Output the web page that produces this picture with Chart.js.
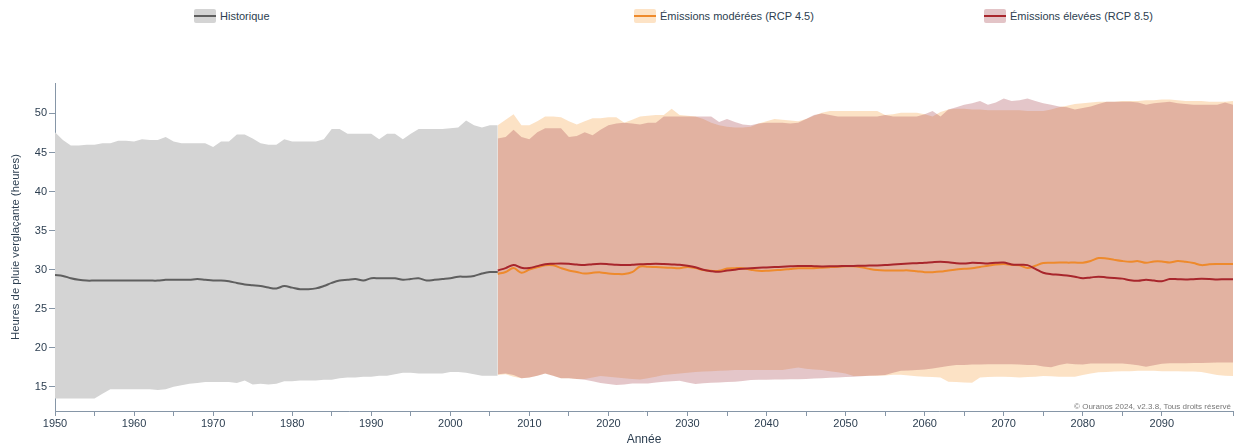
<!DOCTYPE html>
<html lang="fr">
<head>
<meta charset="utf-8">
<title>Heures de pluie verglaçante</title>
<script src="https://cdn.jsdelivr.net/npm/chart.js@4.4.1/dist/chart.umd.min.js"></script>
<style>
    html, body { margin: 0; padding: 0; background: #fff; }
    body { width: 1234px; height: 445px; position: relative; overflow: hidden;
           font-family: "Liberation Sans", Arial, Helvetica, sans-serif; color: #2c3e50; }
    #wrap { position: absolute; left: 0; top: 0; width: 1234px; height: 445px; }
    .leg { position: absolute; top: 9px; height: 14px; display: flex; align-items: center; font-size: 11px; color: #2c3e50; }
    .leg .sw { width: 22px; height: 14px; position: relative; margin-right: 4px; border-radius: 2px; }
    .leg .sw i { position: absolute; left: 0; right: 0; top: 6px; height: 2px; }
    #credit { position: absolute; right: 3px; top: 402px; font-size: 8px; color: #777; }
</style>
</head>
<body>
<div class="leg" style="left:194px;"><span class="sw" style="background:#d4d4d4;"><i style="background:#5f5f5f;"></i></span>Historique</div>
<div class="leg" style="left:634px;"><span class="sw" style="background:#fde3c6;"><i style="background:#ee8a2c;"></i></span>Émissions modérées (RCP 4.5)</div>
<div class="leg" style="left:984px;"><span class="sw" style="background:#e3c4c7;"><i style="background:#a8262c;"></i></span>Émissions élevées (RCP 8.5)</div>
<div id="wrap"><canvas id="iceChart"></canvas></div>
<div id="credit">© Ouranos 2024, v2.3.8, Tous droits réservé</div>

<script>
// ═══ données ═══
const HIST_START = 1950;
const FUT_START  = 2006;
const histYears   = Array.from({ length: 57 }, (_, i) => HIST_START + i);   // 1950–2006
const futureYears = Array.from({ length: 94 }, (_, i) => FUT_START + i);    // 2006–2099

const histMean = [
    29.3, 29.2, 28.9, 28.7, 28.6, 28.6, 28.6, 28.6, 28.6, 28.6,
    28.6, 28.6, 28.6, 28.6, 28.7, 28.7, 28.7, 28.7, 28.8, 28.7,
    28.6, 28.6, 28.5, 28.3, 28.1, 28.0, 27.9, 27.7, 27.6, 27.9,
    27.7, 27.5, 27.5, 27.6, 27.9, 28.3, 28.6, 28.7, 28.8, 28.6,
    28.9, 28.9, 28.9, 28.9, 28.7, 28.8, 28.9, 28.6, 28.7, 28.8,
    28.9, 29.1, 29.1, 29.2, 29.5, 29.7, 29.7
];
const histUpper = [
    47.6, 46.6, 45.9, 45.9, 46.0, 46.0, 46.2, 46.2, 46.5, 46.5,
    46.4, 46.7, 46.6, 46.6, 47.0, 46.4, 46.2, 46.2, 46.2, 46.2,
    45.7, 46.4, 46.4, 47.3, 47.3, 46.8, 46.2, 46.0, 46.0, 46.7,
    46.4, 46.4, 46.4, 46.4, 46.7, 48.0, 48.0, 47.4, 47.4, 47.4,
    47.4, 46.7, 47.4, 47.4, 46.7, 47.4, 48.0, 48.0, 48.0, 48.0,
    48.1, 48.2, 49.1, 48.5, 48.2, 48.5, 48.5
];
const histLower = [
    13.5, 13.5, 13.5, 13.5, 13.5, 13.5, 14.1, 14.7, 14.7, 14.7,
    14.7, 14.7, 14.7, 14.6, 14.7, 15.0, 15.2, 15.4, 15.5, 15.6,
    15.6, 15.6, 15.6, 15.5, 15.8, 15.3, 15.4, 15.3, 15.4, 15.7,
    15.7, 15.8, 15.8, 15.8, 15.9, 15.9, 16.1, 16.2, 16.2, 16.3,
    16.3, 16.4, 16.4, 16.6, 16.8, 16.8, 16.7, 16.7, 16.7, 16.7,
    16.9, 16.9, 16.8, 16.6, 16.4, 16.4, 16.4
];

// RCP 4.5
const rcp45Mean = [
    29.45, 29.7, 30.2, 29.6,
    30.0, 30.3, 30.55, 30.55, 30.2, 29.9, 29.7, 29.5, 29.6, 29.65,
    29.5, 29.45, 29.43, 29.68, 30.41, 30.38, 30.33, 30.28, 30.23, 30.19,
    30.35, 30.2, 29.95, 29.85, 29.85, 30.15, 30.19, 30.19, 30.0, 29.85,
    29.85, 29.92, 29.98, 30.08, 30.17, 30.19, 30.19, 30.25, 30.32, 30.38,
    30.42, 30.44, 30.3, 30.1, 29.95, 29.9, 29.9, 29.9, 29.9, 29.8,
    29.68, 29.68, 29.75, 29.9, 30.02, 30.1, 30.19, 30.35, 30.49, 30.65,
    30.72, 30.62, 30.56, 30.2, 30.5, 30.84, 30.88, 30.92, 30.9, 30.9,
    30.88, 31.1, 31.48, 31.43, 31.25, 31.1, 31.02, 31.09, 30.88, 31.05,
    31.05, 30.92, 31.1, 31.0, 30.84, 30.58, 30.68, 30.71, 30.71, 30.71
];
const rcp45Upper = [
    48.5, 49.2, 49.9, 48.5,
    48.5, 49.0, 49.6, 49.6, 49.5, 49.0, 48.6, 49.0, 49.4, 49.4,
    49.5, 49.5, 48.8, 49.2, 49.6, 49.7, 49.8, 49.8, 50.6, 49.8,
    49.7, 49.6, 49.3, 48.8, 48.5, 48.3, 48.2, 48.2, 48.3, 48.7,
    49.0, 49.3, 49.2, 49.1, 49.0, 49.3, 49.7, 50.1, 50.3, 50.3,
    50.3, 50.3, 50.3, 50.3, 50.3, 49.8, 49.9, 50.1, 50.1, 50.1,
    49.9, 49.6, 50.2, 50.5, 50.6, 50.6, 50.5, 50.5, 50.4, 50.4,
    50.4, 50.4, 50.4, 50.3, 50.3, 50.3, 50.5, 50.8, 51.0, 51.2,
    51.3, 51.4, 51.5, 51.5, 51.5, 51.6, 51.6, 51.6, 51.7, 51.7,
    51.8, 51.8, 51.7, 51.6, 51.6, 51.6, 51.5, 51.5, 51.5, 51.6
];
const rcp45Lower = [
    16.5, 16.6, 16.3, 16.1,
    16.2, 16.4, 16.7, 16.4, 16.1, 16.1, 16.0, 16.0, 16.2, 16.37,
    16.3, 16.2, 16.1, 16.0, 15.94, 16.1, 16.3, 16.5, 16.6, 16.7,
    16.8, 16.9, 16.95, 17.0, 17.05, 17.1, 17.14, 17.14, 17.14, 17.14,
    17.14, 17.14, 17.14, 17.3, 17.48, 17.3, 17.2, 17.14, 17.0, 16.85,
    16.7, 16.38, 16.38, 16.4, 16.4, 16.45, 16.55, 16.55, 16.45, 16.35,
    16.3, 16.25, 16.2, 15.65, 15.6, 15.55, 15.52, 16.2, 16.25, 16.3,
    16.3, 16.25, 16.2, 16.25, 16.3, 16.37, 16.35, 16.3, 16.3, 16.3,
    16.5, 16.7, 16.85, 16.9, 16.95, 17.0, 17.0, 17.05, 17.05, 17.05,
    17.0, 17.0, 17.0, 16.95, 16.95, 16.9, 16.7, 16.5, 16.4, 16.37
];

// RCP 8.5
const rcp85Mean = [
    29.9, 30.2, 30.6, 30.25,
    30.2, 30.45, 30.7, 30.75, 30.8, 30.75, 30.65, 30.6, 30.7, 30.75,
    30.7, 30.62, 30.58, 30.62, 30.68, 30.72, 30.75, 30.72, 30.67, 30.62,
    30.5, 30.3, 29.98, 29.8, 29.72, 29.88, 30.0, 30.1, 30.18, 30.24,
    30.28, 30.33, 30.37, 30.42, 30.47, 30.47, 30.44, 30.41, 30.42, 30.45,
    30.46, 30.48, 30.5, 30.52, 30.54, 30.58, 30.65, 30.72, 30.78, 30.83,
    30.88, 30.96, 31.01, 30.95, 30.82, 30.78, 30.88, 30.85, 30.79, 30.88,
    30.9, 30.66, 30.62, 30.58, 30.11, 29.6, 29.42, 29.36, 29.26, 29.1,
    28.9, 29.0, 29.1, 29.0, 28.92, 28.85, 28.65, 28.58, 28.72, 28.6,
    28.52, 28.8, 28.78, 28.74, 28.78, 28.82, 28.8, 28.75, 28.78, 28.78
];
const rcp85Upper = [
    46.8, 47.0, 47.9, 47.0,
    46.7, 47.6, 48.1, 48.1, 48.1, 47.0, 47.1, 47.6, 47.2, 47.9,
    48.5, 48.7, 48.8, 48.7, 48.6, 48.8, 48.8, 49.6, 49.6, 49.6,
    49.6, 49.6, 49.6, 49.6, 48.9, 49.3, 48.9, 48.6, 48.5, 48.7,
    48.8, 48.8, 48.8, 48.7, 48.8, 49.3, 49.8, 50.0, 49.8, 49.6,
    49.6, 49.6, 49.6, 49.6, 49.6, 49.8, 49.6, 49.6, 49.6, 49.6,
    49.9, 50.3, 49.6, 50.5, 50.8, 51.1, 51.3, 51.6, 51.1, 51.4,
    51.9, 51.6, 51.7, 51.9, 51.6, 51.3, 51.1, 50.9, 50.8, 50.5,
    50.7, 50.9, 51.2, 51.5, 51.5, 51.5, 51.5, 51.4, 51.1, 51.3,
    51.4, 51.5, 51.3, 51.2, 51.1, 51.1, 51.1, 51.1, 51.4, 51.1
];
const rcp85Lower = [
    16.6, 16.7, 16.5, 16.1,
    16.2, 16.4, 16.7, 16.4, 16.1, 16.1, 16.0, 15.9, 15.7, 15.5,
    15.35, 15.22, 15.3, 15.43, 15.43, 15.43, 15.55, 15.65, 15.7, 15.77,
    15.55, 15.35, 15.45, 15.52, 15.55, 15.6, 15.65, 15.75, 15.86, 15.9,
    15.9, 15.92, 15.94, 15.96, 15.97, 15.99, 16.05, 16.1, 16.15, 16.2,
    16.25, 16.3, 16.35, 16.4, 16.45, 16.5, 16.8, 17.05, 17.1, 17.15,
    17.2, 17.35, 17.5, 17.65, 17.78, 17.8, 17.85, 17.85, 17.9, 17.9,
    17.9, 17.88, 17.85, 17.8, 17.78, 17.6, 17.5, 17.8, 17.99, 17.9,
    17.86, 17.99, 17.99, 17.99, 17.99, 17.99, 17.9, 17.75, 17.56, 17.75,
    17.95, 18.0, 18.0, 18.02, 18.04, 18.06, 18.08, 18.1, 18.12, 18.12
];

const yTicks = [15, 20, 25, 30, 35, 40, 45, 50];

// ═══ rendu ═══
const pts = (years, vals) => years.map((yr, i) => ({ x: yr, y: vals[i] }));

const lineDs = (label, years, vals, color) => ({
    label, data: pts(years, vals),
    borderColor: color, borderWidth: 2, pointRadius: 0,
    tension: 0.35, fill: false
});
const edgeDs = (years, vals, fillTo, color) => ({
    data: pts(years, vals),
    borderWidth: 0, borderColor: 'transparent', pointRadius: 0, tension: 0,
    backgroundColor: color,
    fill: fillTo === null ? false : { target: fillTo }
});

const AXIS = '#8696a7';
const TXT  = '#2c3e50';

new Chart(document.getElementById('iceChart').getContext('2d'), {
    type: 'line',
    data: {
        datasets: [
            lineDs('Émissions élevées (RCP 8.5)', futureYears, rcp85Mean, '#a8262c'),   // 0
            lineDs('Émissions modérées (RCP 4.5)', futureYears, rcp45Mean, '#ee8a2c'),  // 1
            lineDs('Historique', histYears, histMean, '#5f5f5f'),                       // 2
            edgeDs(futureYears, rcp85Upper, 4, 'rgba(165,65,75,0.30)'),                  // 3
            edgeDs(futureYears, rcp85Lower, null, 'transparent'),                        // 4
            edgeDs(futureYears, rcp45Upper, 6, 'rgba(246,152,48,0.28)'),                 // 5
            edgeDs(futureYears, rcp45Lower, null, 'transparent'),                        // 6
            edgeDs(histYears, histUpper, 8, '#d4d4d4'),                                  // 7
            edgeDs(histYears, histLower, null, 'transparent')                            // 8
        ]
    },
    options: {
        responsive: true,
        maintainAspectRatio: false,
        animation: false,
        layout: { padding: { top: 83, right: 1, bottom: 0, left: 0 } },
        plugins: {
            legend: { display: false },
            tooltip: { enabled: false }
        },
        scales: {
            x: {
                type: 'linear', min: 1950, max: 2099,
                afterFit: s => { s.height = 34; },
                border: { display: true, color: AXIS, width: 1 },
                grid: { drawOnChartArea: false, drawTicks: true, tickLength: 5, color: AXIS },
                ticks: {
                    stepSize: 5, autoSkip: false, maxRotation: 0, padding: 1,
                    color: TXT, font: { size: 11 },
                    callback: v => (v % 10 === 0 ? String(v) : '')
                },
                title: {
                    display: true, text: 'Année', color: TXT,
                    font: { size: 12, lineHeight: 0.84 }, padding: { top: 0, bottom: 0 }
                }
            },
            y: {
                type: 'linear', min: 11.9, max: 53.9,
                afterFit: s => { s.width = 55; },
                afterBuildTicks: s => { s.ticks = yTicks.map(v => ({ value: v })); },
                border: { display: true, color: AXIS, width: 1 },
                grid: { drawOnChartArea: false, drawTicks: true, tickLength: 6, color: AXIS },
                ticks: { padding: 2, color: TXT, font: { size: 11 } },
                title: {
                    display: true, text: 'Heures de pluie verglaçante (heures)', color: TXT,
                    font: { size: 11.3 }, padding: { top: 9, bottom: 0 }
                }
            }
        }
    }
});
</script>
</body>
</html>
